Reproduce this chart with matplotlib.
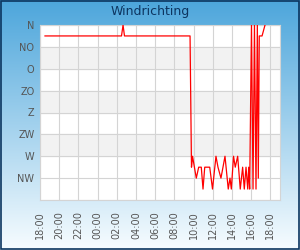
import numpy as np
import matplotlib
matplotlib.use("Agg")
import matplotlib.pyplot as plt
from matplotlib.patches import Rectangle

# -----------------------------
# Data (hours since 18:00, direction in degrees)
# -----------------------------
hours = [0.52, 8.49, 8.65, 8.80, 15.63, 15.78, 15.89, 16.28, 16.53, 16.80,
         16.98, 17.16, 17.68, 17.97, 18.33, 18.54, 18.85, 19.27, 19.61, 19.79,
         19.93, 20.16, 20.34, 20.59, 20.86, 21.11, 21.28, 21.46, 21.64, 21.74,
         21.84, 22.03, 22.19, 22.34, 22.50, 22.64, 22.74, 22.84, 23.13, 23.44]
direction = [22.5, 22.5, 0, 22.5, 22.5, 292.5, 270, 315, 292.5, 292.5,
             337.5, 292.5, 292.5, 337.5, 270, 292.5, 315, 270, 337.5, 315,
             337.5, 270, 292.5, 270, 337.5, 292.5, 337.5, 292.5, 337.5, 292.5,
             337.5, 0, 337.5, 0, 337.5, 0, 315, 22.5, 22.5, 0]

x_ticks = list(range(0, 25, 2))
x_labels = ["18:00", "20:00", "22:00", "00:00", "02:00", "04:00", "06:00",
            "08:00", "10:00", "12:00", "14:00", "16:00", "18:00"]
y_ticks = [0, 45, 90, 135, 180, 225, 270, 315, 360]
y_labels = ["N", "NO", "O", "ZO", "Z", "ZW", "W", "NW", ""]

# -----------------------------
# Figure with gradient background
# -----------------------------
fig = plt.figure(figsize=(3, 2.5), dpi=100)

bg = fig.add_axes([0, 0, 1, 1])
top = np.array([0.30, 0.65, 0.86])
bottom = np.array([0.97, 0.99, 1.0])
t = np.linspace(0, 1, 250)[:, None, None]
grad = top * (1 - t) + bottom * t
grad = np.repeat(grad, 2, axis=1)
bg.imshow(grad, aspect="auto", extent=[0, 1, 0, 1])
bg.axis("off")

fig.patches.append(Rectangle((0.002, 0.003), 0.995, 0.993, transform=fig.transFigure,
                             fill=False, edgecolor="#0b355f", linewidth=1.2))

fig.text(0.5, 1 - 12 / 250, "Windrichting", ha="center", va="center",
         color="#0d3560", fontsize=9)

# -----------------------------
# Plot
# -----------------------------
ax = fig.add_axes([40 / 300, 0.2, 0.8, 0.7])
ax.set_facecolor("white")

for lo in [45, 135, 225]:
    ax.axhspan(lo, lo + 45, color="#f2f2f2", zorder=0)

ax.plot(hours, direction, color="red", linewidth=0.9, zorder=3)

ax.set_xlim(0, 25)
ax.set_ylim(360, 0)
ax.set_xticks(x_ticks)
ax.set_xticklabels(x_labels, rotation=90, fontsize=7, color="#555555")
ax.set_yticks(y_ticks)
ax.set_yticklabels(y_labels, fontsize=7, color="#555555")
ax.tick_params(length=0, pad=4)
ax.tick_params(axis="x", pad=8)

ax.grid(True, color="#d4d4d4", linewidth=0.8, zorder=1)
ax.set_axisbelow(True)
for s in ax.spines.values():
    s.set_color("#d4d4d4")
    s.set_linewidth(0.8)

fig.savefig("out.png", dpi=100)
